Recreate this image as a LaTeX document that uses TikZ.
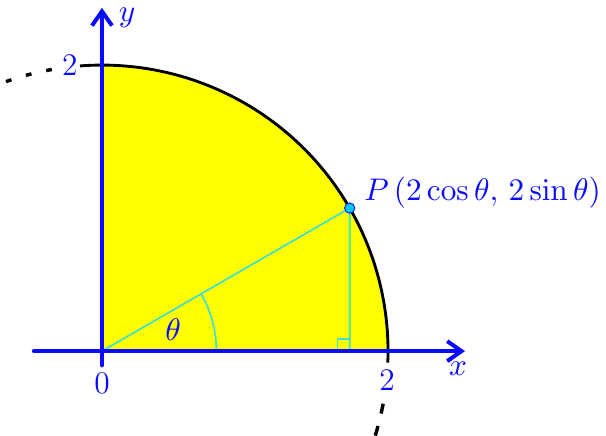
\documentclass[tikz,border=0pt]{standalone}
\usepackage{tikz}
\usetikzlibrary{
	arrows.meta
}
\definecolor{AxisBlue}{RGB}{10,10,255}
\definecolor{AreaYellow}{RGB}{255,255,0}
\definecolor{LineCyan}{RGB}{64,224,208}
\definecolor{DotCyan}{RGB}{0,200,255}

\begin{document}
\begin{tikzpicture}[x=1.76cm, y=1.76cm, font=\fontsize{11}{13}\selectfont,
		axis/.style={AxisBlue, line width=1.4pt, line cap=round, -{Straight Barb[length=5pt, width=7pt]}},
		lbl/.style={text=AxisBlue, inner sep=1pt}]
	\useasboundingbox (-0.713,-0.587) rectangle (3.524,2.455);
	\coordinate (O) at (0,0);
	\coordinate (P) at (30:2);
	\coordinate (Q) at (P |- O);
	\fill[AreaYellow] (O) -- (2,0) arc[start angle=0, end angle=90, radius=2] -- cycle;
	% circle and its continuation
	\draw[line width=1pt] (-2.3:2) arc[start angle=-2.3, end angle=94.4, radius=2];
	\draw[line width=1.2pt, dash pattern=on 2pt off 5.3pt] (100.1:2) arc[start angle=100.1, end angle=110, radius=2];
	\draw[line width=1.2pt, dash pattern=on 3.5pt off 4.5pt] (-10.6:2) arc[start angle=-10.6, end angle=-18, radius=2];
	% triangle and angle
	\draw[LineCyan, line width=0.6pt] (O) -- (P) -- (Q);
	\draw[LineCyan, line width=0.6pt] (0.8,0) arc[start angle=0, end angle=30, radius=0.8];
	\draw[LineCyan, line width=0.5pt] (Q) ++(-0.085,0) -- ++(0,0.085) -- ++(0.085,0);
	% axes
	\coordinate (xs) at (-0.476,0);
	\coordinate (xe) at (2.538,0);
	\coordinate (ys) at (0,-0.1);
	\coordinate (ye) at (0,2.4);
	\draw[axis] (xs) -- (xe);
	\draw[axis] (ys) -- (ye);
	\node[lbl] (xlab) at (2.49,-0.12) {$x$};
	\node[lbl] (ylab) at (0.175,2.33) {$y$};
	\node[lbl] (zero) at (0,-0.224) {0};
	\node[lbl] (xtwo) at (1.994,-0.203) {2};
	\node[lbl] (ytwo) at (-0.224,2) {2};
	\node[lbl] (th) at (0.497,0.147) {$\theta$};
	\fill[DotCyan, draw=AxisBlue, line width=0.3pt] (P) circle (1.8pt);
	\node[lbl, anchor=base west] (Plab) at (1.81,1.055) {$P\,(2\cos\theta,\,2\sin\theta)$};
\end{tikzpicture}
\end{document}
